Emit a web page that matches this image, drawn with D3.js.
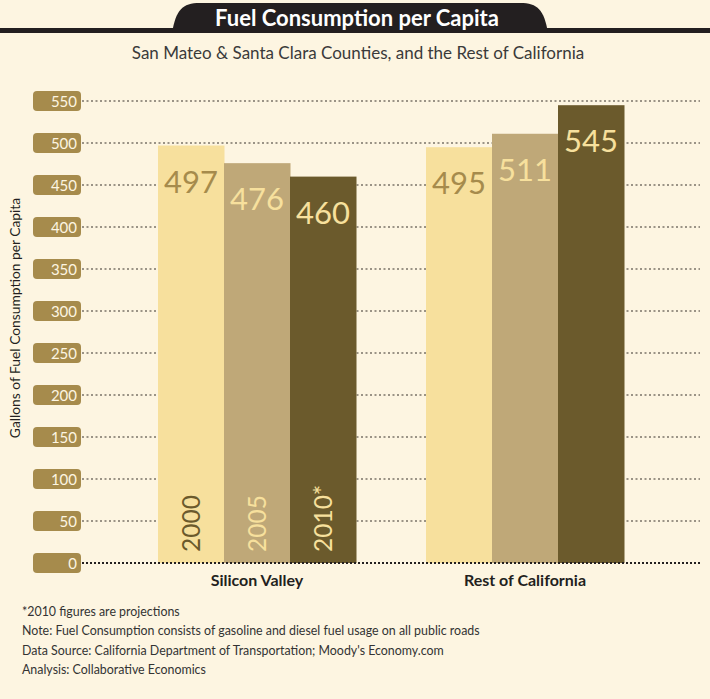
<!DOCTYPE html>
<html lang="en">
<head>
<meta charset="UTF-8">
<title>Fuel Consumption per Capita</title>
<script src="https://cdn.jsdelivr.net/npm/d3@7"></script>
<style>
  body { margin: 0; background: #fdf5e1; }
  svg { display: block; font-family: Lato, "Open Sans", sans-serif; }
</style>
</head>
<body>
<svg width="710" height="699"></svg>
<script>
// data
var regions = ["Silicon Valley", "Rest of California"];
var years = ["2000", "2005", "2010*"];
var siliconValley = [497, 476, 460];
var restOfCalifornia = [495, 511, 545];
var yTicks = [0, 50, 100, 150, 200, 250, 300, 350, 400, 450, 500, 550];
var notes = [
  "*2010 figures are projections",
  "Note: Fuel Consumption consists of gasoline and diesel fuel usage on all public roads",
  "Data Source: California Department of Transportation; Moody's Economy.com",
  "Analysis: Collaborative Economics"
];

var barFill = ["#f7e09d", "#bfa878", "#6b5a2c"];
var valueFill = ["#a68b4c", "#f7e09d", "#f7e09d"];
var yearFill = ["#6b5a2c", "#f7e09d", "#f7e09d"];

var svg = d3.select("svg");
svg.append("rect").attr("width", 710).attr("height", 699).attr("fill", "#fdf5e1");

// title tab
svg.append("rect").attr("x", 0).attr("y", 28).attr("width", 710).attr("height", 5).attr("fill", "#231f20");
svg.append("path")
  .attr("d", "M172,33 C176,10 182,3 200,3 L520,3 C538,3 544,10 548,33 Z")
  .attr("fill", "#231f20");
svg.append("text").attr("x", 357).attr("y", 26).attr("text-anchor", "middle")
  .attr("fill", "#fff").attr("font-weight", "bold").attr("font-size", 22)
  .text("Fuel Consumption per Capita");
svg.append("text").attr("x", 358).attr("y", 59).attr("text-anchor", "middle")
  .attr("fill", "#3a3a3a").attr("font-size", 17)
  .text("San Mateo & Santa Clara Counties, and the Rest of California");

// scales
var y = d3.scaleLinear().domain([0, 550]).range([563, 101]);
var x1 = d3.scaleBand().domain(years).range([0, 198]);
var groupLeft = { "Silicon Valley": 158, "Rest of California": 426 };

// gridlines
svg.append("g").selectAll("line").data(yTicks.filter(function(d){ return d > 0; })).enter()
  .append("line")
  .attr("x1", 82).attr("x2", 700)
  .attr("y1", function(d){ return y(d); }).attr("y2", function(d){ return y(d); })
  .attr("stroke", "#7a7368").attr("stroke-width", 1.3).attr("stroke-dasharray", "2,2.5");

// bars
var data = [siliconValley, restOfCalifornia];
var groups = svg.append("g").selectAll("g").data(regions).enter().append("g")
  .attr("transform", function(d){ return "translate(" + groupLeft[d] + ",0)"; });

groups.each(function(region, gi) {
  var g = d3.select(this);
  var vals = data[gi];
  g.selectAll("rect").data(vals).enter().append("rect")
    .attr("x", function(d, i){ return x1(years[i]); })
    .attr("y", function(d){ return y(d); })
    .attr("width", x1.bandwidth() + 0.5)
    .attr("height", function(d){ return y(0) - y(d); })
    .attr("fill", function(d, i){ return barFill[i]; });
  g.selectAll("text.val").data(vals).enter().append("text").attr("class", "val")
    .attr("x", function(d, i){ return x1(years[i]) + x1.bandwidth() / 2; })
    .attr("y", function(d){ return y(d) + 47; })
    .attr("text-anchor", "middle")
    .attr("font-size", 31)
    .attr("fill", function(d, i){ return valueFill[i]; })
    .text(function(d){ return d; });
  if (gi === 0) {
    g.selectAll("text.yr").data(years).enter().append("text").attr("class", "yr")
      .attr("transform", function(d){
        return "translate(" + (x1(d) + x1.bandwidth() / 2 + 9) + ",552) rotate(-90)";
      })
      .attr("font-size", 24.5)
      .attr("fill", function(d, i){ return yearFill[i]; })
      .text(function(d){ return d; });
  }
  g.append("text")
    .attr("x", 99).attr("y", 586)
    .attr("text-anchor", "middle")
    .attr("font-weight", "bold").attr("font-size", 16).attr("fill", "#231f20")
    .text(region);
});

// zero line
svg.append("line").attr("x1", 82).attr("x2", 700).attr("y1", y(0)).attr("y2", y(0))
  .attr("stroke", "#231f20").attr("stroke-width", 2).attr("stroke-dasharray", "2,2");

// tick boxes
var ticks = svg.append("g").selectAll("g").data(yTicks).enter().append("g")
  .attr("transform", function(d){ return "translate(0," + y(d) + ")"; });
ticks.append("rect").attr("x", 33).attr("y", -10).attr("width", 48).attr("height", 20)
  .attr("rx", 4).attr("fill", "#a68b4c");
ticks.append("text").attr("x", 77).attr("y", 5.5).attr("text-anchor", "end")
  .attr("fill", "#fdf5e1").attr("font-size", 15)
  .text(function(d){ return d; });

// y axis title
svg.append("text").attr("transform", "translate(20,318) rotate(-90)")
  .attr("text-anchor", "middle").attr("font-size", 13.8).attr("fill", "#231f20")
  .text("Gallons of Fuel Consumption per Capita");

// notes
svg.append("g").selectAll("text").data(notes).enter().append("text")
  .attr("x", 22).attr("y", function(d, i){ return 616 + i * 19.3; })
  .attr("font-size", 12.4).attr("fill", "#333")
  .text(function(d){ return d; });
</script>
</body>
</html>
